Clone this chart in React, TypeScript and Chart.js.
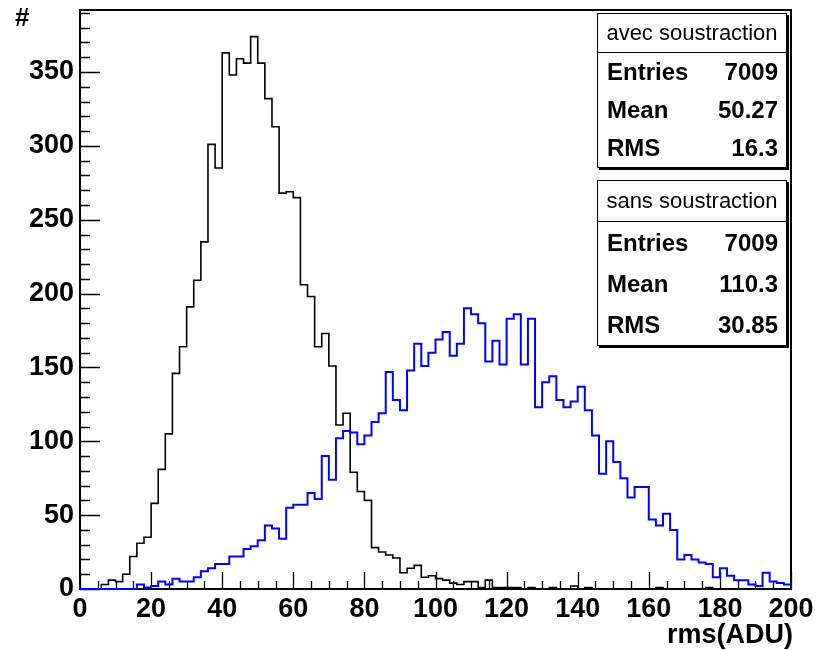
import React, { useEffect, useRef } from "react";
import { Chart, registerables } from "chart.js";

Chart.register(...registerables);

// ---------- data ----------
const BIN_WIDTH = 2;
const X_MIN = 0;
const X_MAX = 200;
const Y_MIN = 0;
const Y_MAX = 392;

const X_MAJOR_STEP = 20;
const X_MINOR_STEP = 5;
const Y_MAJOR_STEP = 50;
const Y_MINOR_STEP = 10;

// "avec soustraction" (black), 100 bins of width 2 from 0 to 200
const avecCounts = [
  0, 0, 0, 3, 6, 5, 10, 22, 31, 35,
  58, 81, 105, 146, 164, 191, 209, 235, 301, 285,
  363, 348, 359, 356, 374, 356, 332, 313, 268, 269,
  265, 206, 198, 164, 173, 151, 111, 119, 79, 66,
  60, 28, 25, 23, 21, 11, 14, 16, 8, 9,
  7, 6, 4, 3, 5, 5, 1, 6, 1, 1,
  1, 1, 0, 1, 0, 0, 1, 0, 0, 2,
  0, 1, 0, 0, 0, 0, 0, 0, 0, 0,
  0, 1, 0, 0, 0, 0, 0, 0, 1, 0,
  0, 0, 0, 0, 0, 0, 0, 0, 0, 0,
];

// "sans soustraction" (blue)
const sansCounts = [
  0, 0, 0, 0, 0, 0, 0, 0, 3, 1,
  2, 5, 3, 7, 5, 5, 8, 12, 14, 17,
  17, 22, 22, 27, 29, 33, 43, 41, 34, 55,
  57, 57, 65, 61, 90, 74, 102, 107, 106, 98,
  104, 113, 119, 147, 128, 121, 148, 166, 151, 160,
  169, 174, 158, 166, 190, 186, 180, 154, 168, 152,
  183, 186, 152, 183, 123, 140, 144, 128, 123, 127,
  137, 121, 104, 78, 100, 86, 75, 62, 69, 69,
  47, 43, 51, 40, 20, 23, 20, 18, 17, 8,
  14, 9, 6, 6, 3, 2, 11, 5, 4, 3,
];

const statLabels = ["Entries", "Mean", "RMS"];
const avecTitle = "avec soustraction";
const avecStatValues = ["7009", "50.27", "16.3"];
const sansTitle = "sans soustraction";
const sansStatValues = ["7009", "110.3", "30.85"];

const xAxisTitle = "rms(ADU)";
const yAxisTitle = "#";

// ---------- helpers ----------
function toSteps(counts: number[]) {
  const pts = counts.map((c, i) => ({ x: X_MIN + i * BIN_WIDTH, y: c }));
  pts.push({ x: X_MIN + counts.length * BIN_WIDTH, y: counts[counts.length - 1] });
  return pts;
}

const FONT = "'Liberation Sans', Arial, Helvetica, sans-serif";

const frameTicksPlugin = {
  id: "frameTicks",
  beforeDatasetsDraw(chart: any) {
    const { ctx, chartArea } = chart;
    const { left, right, top, bottom } = chartArea;
    const xs = chart.scales.x;
    const ys = chart.scales.y;
    ctx.save();
    ctx.strokeStyle = "#000";
    ctx.lineWidth = 1.3;
    ctx.beginPath();
    for (let v = Y_MIN; v <= Y_MAX + 1e-9; v += Y_MINOR_STEP) {
      const py = Math.round(ys.getPixelForValue(v)) + 0.5;
      const len = v % Y_MAJOR_STEP === 0 ? 20 : 10;
      ctx.moveTo(left, py);
      ctx.lineTo(left + len, py);
    }
    for (let v = X_MIN; v <= X_MAX + 1e-9; v += X_MINOR_STEP) {
      const px = Math.round(xs.getPixelForValue(v)) + 0.5;
      const len = v % X_MAJOR_STEP === 0 ? 17 : 8;
      ctx.moveTo(px, bottom);
      ctx.lineTo(px, bottom - len);
    }
    ctx.stroke();
    ctx.lineWidth = 2;
    ctx.strokeRect(left, top, right - left, bottom - top);
    ctx.restore();
  },
};

function StatBox(props: {
  left: number;
  top: number;
  width: number;
  headerH: number;
  rowH: number;
  title: string;
  values: string[];
}) {
  const { left, top, width, headerH, rowH, title, values } = props;
  return (
    <div
      style={{
        position: "absolute",
        left,
        top,
        width,
        border: "1px solid #000",
        boxShadow: "2px 2px 0 #000",
        background: "#fff",
        fontFamily: FONT,
        color: "#000",
        boxSizing: "border-box",
      }}
    >
      <div
        style={{
          height: headerH,
          lineHeight: headerH + "px",
          textAlign: "center",
          fontSize: 22,
          borderBottom: "1px solid #000",
          whiteSpace: "nowrap",
        }}
      >
        {title}
      </div>
      {statLabels.map((lab, i) => (
        <div
          key={lab}
          style={{
            height: rowH,
            lineHeight: rowH + "px",
            display: "flex",
            justifyContent: "space-between",
            padding: "0 8px 0 9px",
            fontSize: 24,
            fontWeight: "bold",
          }}
        >
          <span>{lab}</span>
          <span>{values[i]}</span>
        </div>
      ))}
    </div>
  );
}

export default function App() {
  const canvasRef = useRef<HTMLCanvasElement | null>(null);

  useEffect(() => {
    document.body.style.margin = "0";
    const canvas = canvasRef.current;
    if (!canvas) return;
    const tickFont = { family: FONT, size: 27, weight: "bold" as const };
    const chart = new Chart(canvas, {
      type: "line",
      data: {
        datasets: [
          {
            label: sansTitle,
            data: toSteps(sansCounts),
            borderColor: "#0000ff",
            borderWidth: 2,
            stepped: "before",
            pointRadius: 0,
            fill: false,
            clip: false as any,
          },
          {
            label: avecTitle,
            data: toSteps(avecCounts),
            borderColor: "#000000",
            borderWidth: 1.6,
            stepped: "before",
            pointRadius: 0,
            fill: false,
            clip: false as any,
          },
        ],
      },
      options: {
        responsive: false,
        maintainAspectRatio: false,
        animation: false,
        parsing: true,
        layout: { padding: { left: 0, top: 10, right: 26, bottom: 0 } },
        plugins: {
          legend: { display: false },
          tooltip: { enabled: false },
          title: { display: false },
        },
        events: [],
        scales: {
          x: {
            type: "linear",
            min: X_MIN,
            max: X_MAX,
            grid: { display: false, drawTicks: false },
            border: { display: false },
            ticks: {
              stepSize: X_MAJOR_STEP,
              autoSkip: false,
              maxRotation: 0,
              color: "#000",
              font: tickFont,
              padding: 4,
            },
            afterFit(scale: any) {
              scale.height = 61;
              scale.paddingLeft = 0;
              scale.paddingRight = 0;
            },
          },
          y: {
            type: "linear",
            min: Y_MIN,
            max: Y_MAX,
            grid: { display: false, drawTicks: false },
            border: { display: false },
            ticks: {
              stepSize: Y_MAJOR_STEP,
              autoSkip: false,
              color: "#000",
              font: tickFont,
              padding: 6,
            },
            afterBuildTicks(scale: any) {
              scale.ticks = scale.ticks.filter((t: any) => t.value % Y_MAJOR_STEP === 0);
            },
            afterFit(scale: any) {
              scale.width = 80;
              scale.paddingTop = 0;
              scale.paddingBottom = 0;
            },
          },
        },
      },
      plugins: [frameTicksPlugin],
    });
    return () => chart.destroy();
  }, []);

  return (
    <div style={{ position: "relative", width: 817, height: 650, background: "#fff" }}>
      <canvas ref={canvasRef} width={817} height={650} style={{ display: "block" }} />
      <div
        style={{
          position: "absolute",
          left: 15,
          top: 2,
          fontFamily: FONT,
          fontWeight: "bold",
          fontSize: 26,
          lineHeight: "30px",
        }}
      >
        {yAxisTitle}
      </div>
      <div
        style={{
          position: "absolute",
          right: 817 - 793,
          top: 618,
          fontFamily: FONT,
          fontWeight: "bold",
          fontSize: 27,
          lineHeight: "32px",
          whiteSpace: "nowrap",
        }}
      >
        {xAxisTitle}
      </div>
      <StatBox left={597} top={13} width={190} headerH={38} rowH={38} title={avecTitle} values={avecStatValues} />
      <StatBox left={597} top={180} width={190} headerH={40} rowH={41} title={sansTitle} values={sansStatValues} />
    </div>
  );
}
